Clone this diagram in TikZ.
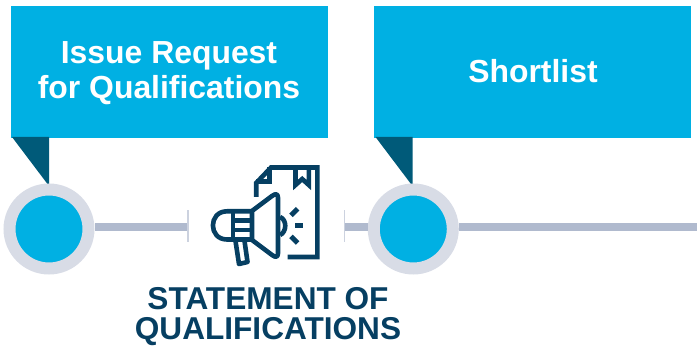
\documentclass[tikz,border=0pt]{standalone}
\usepackage{fontspec}
\usetikzlibrary{calc}
\setmainfont{Liberation Sans}
\definecolor{cyanbox}{HTML}{00B0E3}
\definecolor{tealdark}{HTML}{005A79}
\definecolor{ringc}{HTML}{D8DCE6}
\definecolor{linec}{HTML}{B0BACE}
\definecolor{navy}{HTML}{063F62}
\tikzset{
  x=1pt,y=-1pt,
  callout/.style={fill=cyanbox,draw=none,minimum width=317pt,minimum height=132pt,inner sep=0pt,anchor=north west},
  calltext/.style={text=white,font=\bfseries\fontsize{31.9}{35}\selectfont,align=center},
  ring/.style={circle,fill=cyanbox,draw=ringc,line width=12pt,minimum size=79pt,inner sep=0pt},
  track/.style={draw=linec,line width=8pt},
  tick/.style={draw=ringc!70!linec,line width=1.5pt},
  pointer/.style={fill=tealdark,draw=none},
  icon/.style={draw=navy,line width=4.6pt,line join=miter},
  heading/.style={text=navy,font=\bfseries\fontsize{31.6}{30}\selectfont,align=center,inner sep=0pt}
}
\begin{document}
\begin{tikzpicture}
\useasboundingbox (0,0) rectangle (697,347);
% boxes
\node[callout] (boxa) at (11,6) {};
\node[callout] (boxb) at (374,6) {};
\node[calltext] (ta) at (169,73.5) {Issue Request\\for Qualifications};
\node[calltext] (tb) at (533,71) {Shortlist};
% pointers
\fill[pointer] (12,137) -- (49,137) -- (49,186) -- cycle;
\fill[pointer] (375.5,137) -- (412.5,137) -- (412.5,186) -- cycle;
% track ends
\coordinate (ta1) at (188,227.5);
\coordinate (tb1) at (344.5,227.5);
\coordinate (re) at (697,227.5);
% circles
\node[ring] (ca) at (49,229) {};
\node[ring] (cb) at (413.3,229) {};
% tracks
\draw[track] (ca.east |- ta1) -- (ta1);
\draw[track] (tb1) -- (cb.west |- tb1);
\draw[track] (cb.east |- re) -- (re);
\draw[tick] (188,210.5) -- (188,242.5);
\draw[tick] (344.5,210.5) -- (344.5,242.5);
% icon: document
\draw[icon] (256.2,197) -- (256.2,183) -- (271,167.5) -- (317.3,167.5) -- (317.3,257) -- (287.7,257);
\draw[icon] (256.2,181.5) -- (269.5,181.5) -- (269.5,167.5);
\draw[icon] (295.5,167.5) -- (295.5,185) -- (302.2,179) -- (308.8,185) -- (308.8,167.5);
% icon: megaphone
\draw[icon,line join=round] (252,211) -- (272,196) .. controls (276,193) and (278,194) .. (278,198) -- (278,253) .. controls (278,257) and (276,258) .. (272,255) -- (252,240) -- cycle;
\draw[icon] (252,211.3) -- (227,211.3) .. controls (208.2,211.3) and (208.2,239.5) .. (227,239.5) -- (252,239.5);
\draw[icon] (233,220.7) -- (252,220.7);
\draw[icon] (233,230) -- (252,230);
\draw[icon] (233,211.3) -- (233,239.5);
\draw[icon,line cap=round,line join=round] (235.5,241) -- (239,264) -- (247.5,262) -- (244.5,241);
\draw[icon] (280,217) .. controls (287,219.5) and (287,232) .. (280,235);
\draw[icon,line width=5pt] (297.6,208.7) -- (291,215.3);
\draw[icon,line width=5pt] (297.6,243) -- (291,236.4);
\draw[icon,line width=5pt] (295,225.3) -- (303.3,225.3);
% heading
\node[heading] (h) at (268,317) {STATEMENT OF\\QUALIFICATIONS};
\end{tikzpicture}
\end{document}
